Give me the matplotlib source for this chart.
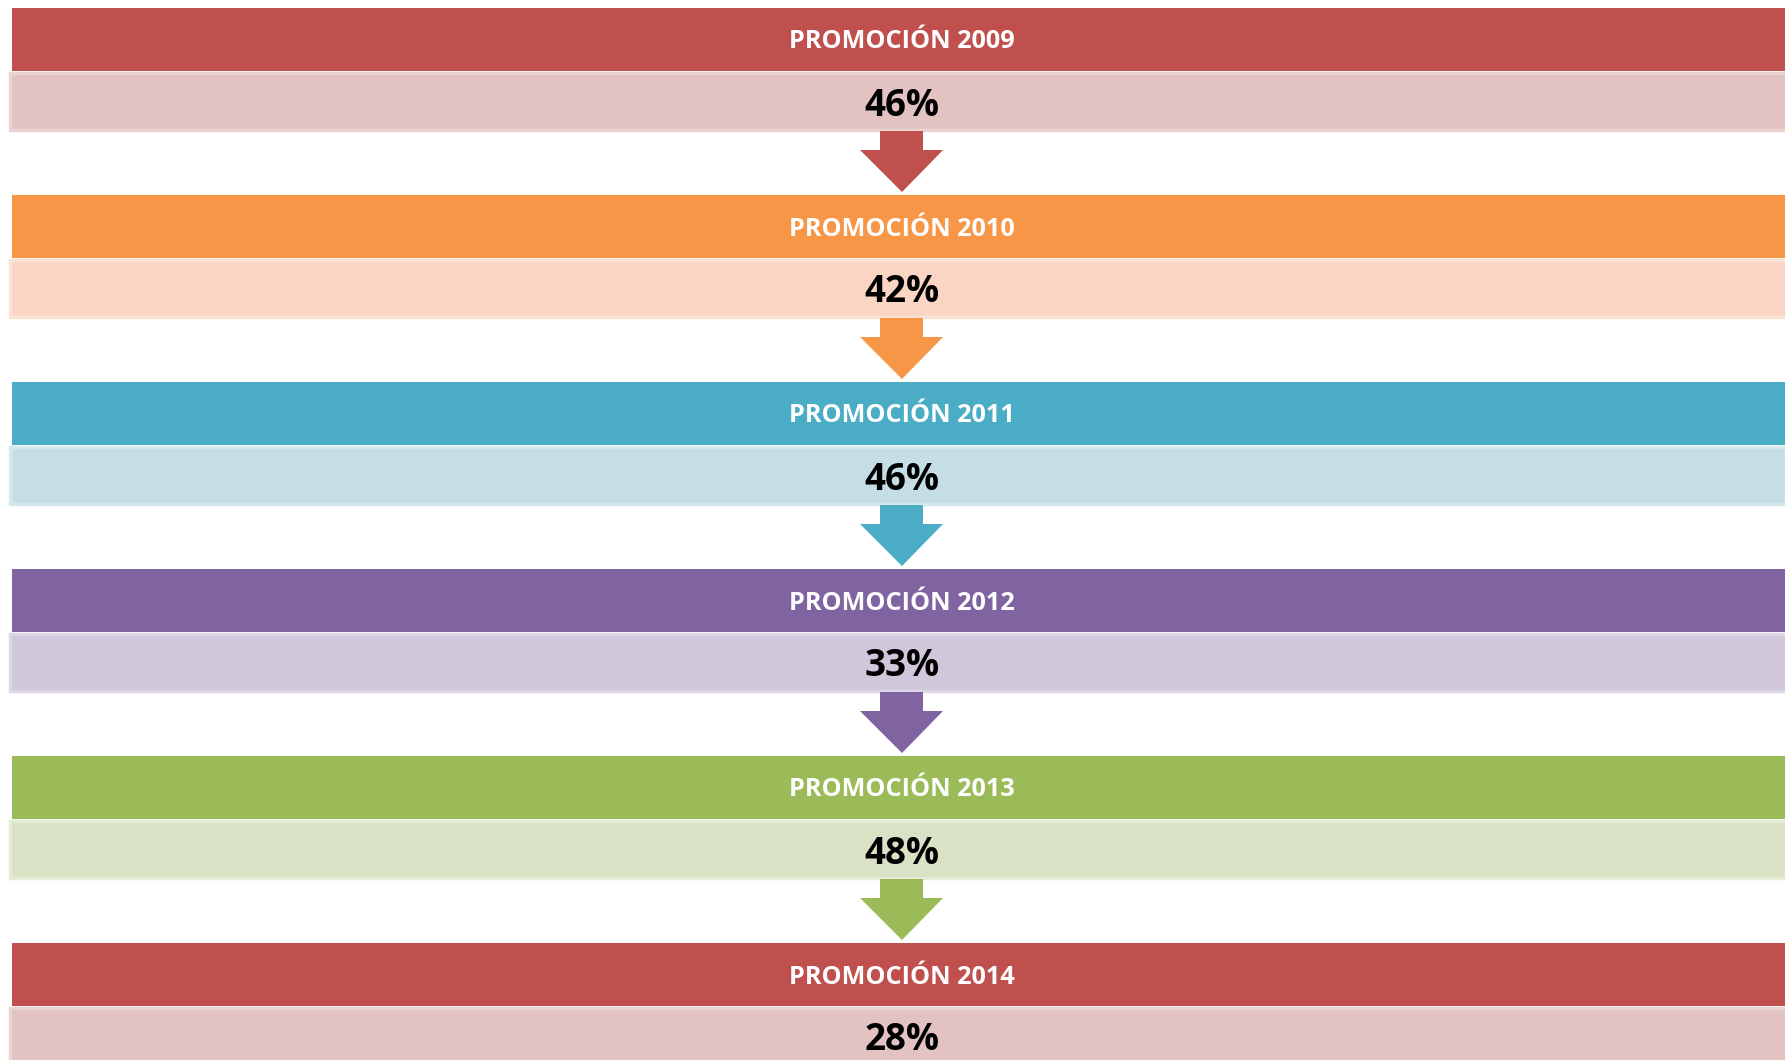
import matplotlib
matplotlib.use("Agg")
import matplotlib.pyplot as plt
from matplotlib.patches import Rectangle, Polygon

years = ["2009", "2010", "2011", "2012", "2013", "2014"]
percentages = [46, 42, 46, 33, 48, 28]
header_colors = ["#C0504D", "#F79646", "#4BACC6", "#8064A2", "#9BBB59", "#C0504D"]
light_colors = ["#E2C3C2", "#FAD5C3", "#C5DEE6", "#D0C7DA", "#D9E2C5", "#E2C3C2"]
edge_colors = ["#EBD3D2", "#FCE2D5", "#D5E8EE", "#DDD6E5", "#E4EBD6", "#EBD3D2"]

W, H = 1785, 1060
fig = plt.figure(figsize=(W / 100, H / 100), dpi=100)
ax = fig.add_axes([0, 0, 1, 1])
ax.set_xlim(0, W)
ax.set_ylim(H, 0)
ax.axis("off")

step = 187
top0 = 8
hdr_h = 63
band_h = 60
cx = 902
font = ["Open Sans", "DejaVu Sans"]

for i, (yr, pct) in enumerate(zip(years, percentages)):
    top = top0 + i * step
    # header bar
    ax.add_patch(Rectangle((12, top), W + 20, hdr_h, facecolor=header_colors[i],
                           edgecolor="none", zorder=2))
    # light value band
    ax.add_patch(Rectangle((9.5, top + hdr_h + 1.5), W + 20, band_h - 3,
                           facecolor=light_colors[i], edgecolor=edge_colors[i],
                           linewidth=2.5, zorder=2))
    ax.text(cx, top + hdr_h / 2 + 2.5, f"PROMOCIÓN {yr}", color="white",
            fontsize=18.2, fontweight="bold", family=font,
            ha="center", va="center", zorder=4)
    ax.text(cx, top + hdr_h + band_h / 2 + 4.5, f"{pct}%", color="black",
            fontsize=26.5, fontweight="bold", family=font,
            ha="center", va="center", zorder=4)
    if i < len(years) - 1:
        y0 = top + hdr_h + band_h
        yh = top + 142
        yt = top + 184
        pts = [(880, y0), (923, y0), (923, yh), (943, yh), (cx, yt),
               (860, yh), (880, yh)]
        ax.add_patch(Polygon(pts, closed=True, facecolor=header_colors[i],
                             edgecolor="none", zorder=3))

fig.savefig("out.png", dpi=100)
